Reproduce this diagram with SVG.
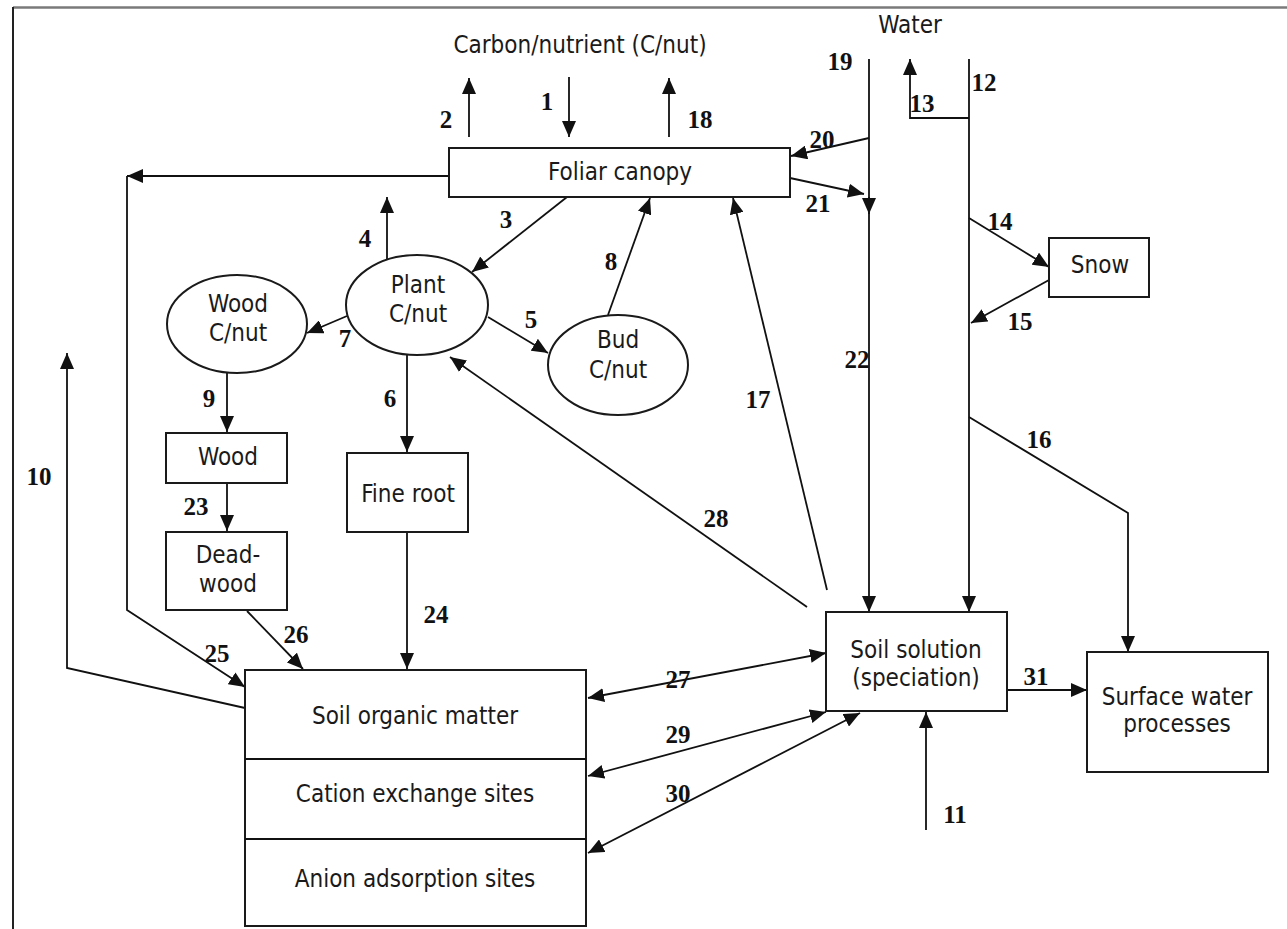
<svg xmlns="http://www.w3.org/2000/svg" width="1287" height="929" viewBox="0 0 1287 929">
  <style>
    .box { fill: #fff; stroke: #1a1a1a; stroke-width: 2; }
    .lbl { font-family: "DejaVu Sans Condensed", "DejaVu Sans", sans-serif; font-stretch: condensed; font-size: 24px; fill: #1a1a1a; text-anchor: middle; }
    .num { font-family: "Liberation Serif", "Times New Roman", serif; font-weight: bold; font-size: 25px; fill: #111; text-anchor: middle; }
    .ln { fill: none; stroke: #111; stroke-width: 1.8; }
    .arr { fill: none; stroke: #111; stroke-width: 1.8; marker-end: url(#head); }
    .arr2 { fill: none; stroke: #111; stroke-width: 1.8; marker-end: url(#head); marker-start: url(#head); }
  </style>
  <defs>
    <marker id="head" markerUnits="userSpaceOnUse" markerWidth="16" markerHeight="14" viewBox="0 0 16 14" refX="16" refY="7" orient="auto-start-reverse">
      <path d="M0,0 L16,7 L0,14 z" fill="#111"/>
    </marker>
  </defs>
  <rect width="1287" height="929" fill="#fff"/>

  <!-- page frame -->
  <g id="frame">
    <line x1="13" y1="7.5" x2="1287" y2="7.5" stroke="#7a7a7a" stroke-width="2.5"/>
    <line x1="13" y1="7" x2="13" y2="929" stroke="#222" stroke-width="2"/>
  </g>

  <!-- headings -->
  <g id="headings">
    <text class="lbl" x="580" y="53">Carbon/nutrient (C/nut)</text>
    <text class="lbl" x="910" y="33">Water</text>
  </g>

  <!-- connectors -->
  <g id="connectors">
    <!-- 1, 2, 18: atmosphere exchange with canopy -->
    <line class="arr" x1="569" y1="77" x2="569" y2="137"/>
    <line class="arr" x1="469" y1="137" x2="469" y2="78"/>
    <line class="arr" x1="669" y1="137" x2="669" y2="78"/>
    <!-- 3: canopy to plant -->
    <line class="arr" x1="567" y1="197" x2="472" y2="272"/>
    <!-- 4: plant up -->
    <line class="arr" x1="387" y1="260" x2="387" y2="197"/>
    <!-- 5: plant to bud -->
    <line class="arr" x1="488" y1="317" x2="548" y2="353"/>
    <!-- 6: plant to fine root -->
    <line class="arr" x1="407" y1="355" x2="407" y2="452"/>
    <!-- 7: plant to wood C/nut -->
    <line class="arr" x1="347" y1="316" x2="307" y2="333"/>
    <!-- 8: bud to canopy -->
    <line class="arr" x1="608" y1="315" x2="650" y2="198"/>
    <!-- 9: wood C/nut to wood -->
    <line class="arr" x1="227" y1="373" x2="227" y2="432"/>
    <!-- 23: wood to dead-wood -->
    <line class="arr" x1="227" y1="483" x2="227" y2="531"/>
    <!-- 24: fine root to soil -->
    <line class="arr" x1="407" y1="532" x2="407" y2="669"/>
    <!-- 26: dead-wood to soil -->
    <line class="arr" x1="247" y1="611" x2="303" y2="669"/>
    <!-- 25: canopy litter to soil -->
    <line class="arr" x1="449" y1="176" x2="127" y2="176"/>
    <polyline class="arr" points="127,176 127,610 245,687"/>
    <!-- 10: soil loss -->
    <polyline class="arr" points="245,708 67,668 67,353"/>
    <!-- 19 / 22: precipitation to soil solution -->
    <line class="ln" x1="869" y1="59" x2="869" y2="214"/>
    <line class="arr" x1="869" y1="197" x2="869" y2="214"/>
    <line class="arr" x1="869" y1="214" x2="869" y2="612"/>
    <!-- 12: water column to soil solution -->
    <line class="arr" x1="969" y1="59" x2="969" y2="612"/>
    <!-- 13 -->
    <polyline class="arr" points="969,118 910,118 910,59"/>
    <!-- 20 -->
    <line class="arr" x1="869" y1="138" x2="791" y2="156"/>
    <!-- 21 -->
    <line class="arr" x1="790" y1="178" x2="864" y2="194"/>
    <!-- 14, 15: snow -->
    <line class="arr" x1="969" y1="218" x2="1049" y2="267"/>
    <line class="arr" x1="1049" y1="280" x2="971" y2="323"/>
    <!-- 16 -->
    <polyline class="arr" points="969,417 1128,513 1128,652"/>
    <!-- 17 -->
    <line class="arr" x1="827" y1="590" x2="733" y2="198"/>
    <!-- 28 -->
    <line class="arr" x1="807" y1="607" x2="450" y2="357"/>
    <!-- 27, 29, 30: exchange with soil pools -->
    <line class="arr2" x1="588" y1="698" x2="826" y2="653"/>
    <line class="arr2" x1="588" y1="776" x2="826" y2="712"/>
    <line class="arr2" x1="588" y1="853" x2="860" y2="713"/>
    <!-- 31 -->
    <line class="arr" x1="1007" y1="690" x2="1087" y2="690"/>
    <!-- 11 -->
    <line class="arr" x1="926" y1="830" x2="926" y2="712"/>
  </g>

  <!-- flow numbers -->
  <g id="flow-numbers">
    <text class="num" x="547" y="110">1</text>
    <text class="num" x="446" y="128">2</text>
    <text class="num" x="506" y="228">3</text>
    <text class="num" x="365" y="247">4</text>
    <text class="num" x="531" y="328">5</text>
    <text class="num" x="390" y="407">6</text>
    <text class="num" x="345" y="347">7</text>
    <text class="num" x="611" y="270">8</text>
    <text class="num" x="209" y="407">9</text>
    <text class="num" x="39" y="485">10</text>
    <text class="num" x="955" y="823">11</text>
    <text class="num" x="984" y="91">12</text>
    <text class="num" x="922" y="112">13</text>
    <text class="num" x="1000" y="230">14</text>
    <text class="num" x="1020" y="330">15</text>
    <text class="num" x="1039" y="448">16</text>
    <text class="num" x="758" y="408">17</text>
    <text class="num" x="700" y="128">18</text>
    <text class="num" x="840" y="70">19</text>
    <text class="num" x="822" y="148">20</text>
    <text class="num" x="818" y="212">21</text>
    <text class="num" x="857" y="368">22</text>
    <text class="num" x="196" y="515">23</text>
    <text class="num" x="436" y="623">24</text>
    <text class="num" x="217" y="662">25</text>
    <text class="num" x="296" y="643">26</text>
    <text class="num" x="678" y="688">27</text>
    <text class="num" x="716" y="527">28</text>
    <text class="num" x="678" y="743">29</text>
    <text class="num" x="678" y="802">30</text>
    <text class="num" x="1036" y="685">31</text>
  </g>

  <!-- nodes -->
  <g id="foliar-canopy">
    <rect class="box" x="449" y="148" width="341" height="49"/>
    <text class="lbl" x="620" y="180">Foliar canopy</text>
  </g>
  <g id="plant-cnut">
    <ellipse class="box" cx="417" cy="305" rx="71" ry="50"/>
    <text class="lbl" x="418" y="293">Plant</text>
    <text class="lbl" x="418" y="322">C/nut</text>
  </g>
  <g id="bud-cnut">
    <ellipse class="box" cx="618" cy="365" rx="70" ry="50"/>
    <text class="lbl" x="618" y="348">Bud</text>
    <text class="lbl" x="618" y="378">C/nut</text>
  </g>
  <g id="wood-cnut">
    <ellipse class="box" cx="237" cy="324" rx="70" ry="49"/>
    <text class="lbl" x="238" y="312">Wood</text>
    <text class="lbl" x="238" y="341">C/nut</text>
  </g>
  <g id="wood">
    <rect class="box" x="166" y="433" width="121" height="50"/>
    <text class="lbl" x="228" y="465">Wood</text>
  </g>
  <g id="dead-wood">
    <rect class="box" x="166" y="532" width="121" height="78"/>
    <text class="lbl" x="228" y="563">Dead-</text>
    <text class="lbl" x="228" y="592">wood</text>
  </g>
  <g id="fine-root">
    <rect class="box" x="347" y="453" width="121" height="79"/>
    <text class="lbl" x="408" y="502">Fine root</text>
  </g>
  <g id="snow">
    <rect class="box" x="1049" y="238" width="100" height="59"/>
    <text class="lbl" x="1100" y="273">Snow</text>
  </g>
  <g id="soil-pools">
    <rect class="box" x="245" y="670" width="341" height="256"/>
    <line class="ln" x1="245" y1="759" x2="586" y2="759" stroke-width="2"/>
    <line class="ln" x1="245" y1="839" x2="586" y2="839" stroke-width="2"/>
    <text class="lbl" x="415" y="724">Soil organic matter</text>
    <text class="lbl" x="415" y="802">Cation exchange sites</text>
    <text class="lbl" x="415" y="887">Anion adsorption sites</text>
  </g>
  <g id="soil-solution">
    <rect class="box" x="826" y="612" width="181" height="99"/>
    <text class="lbl" x="916" y="658">Soil solution</text>
    <text class="lbl" x="916" y="686">(speciation)</text>
  </g>
  <g id="surface-water">
    <rect class="box" x="1087" y="652" width="181" height="120"/>
    <text class="lbl" x="1177" y="705">Surface water</text>
    <text class="lbl" x="1177" y="732">processes</text>
  </g>
</svg>
